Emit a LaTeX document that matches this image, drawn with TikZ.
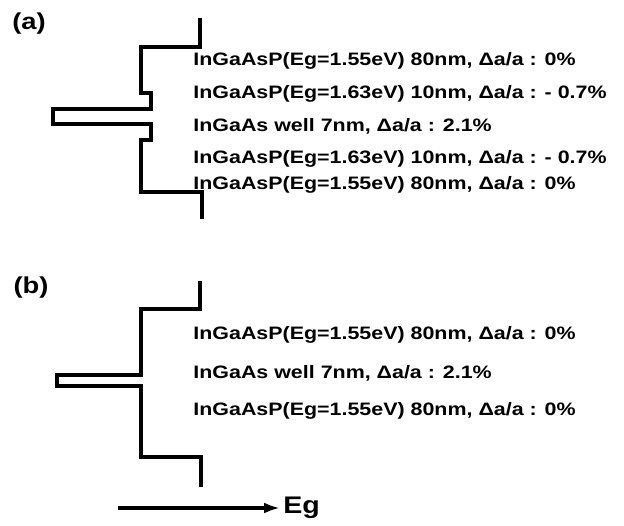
\documentclass[tikz,border=0pt]{standalone}
\usepackage{fontspec}
\setmainfont{Liberation Sans}[FakeStretch=1.19]
\usetikzlibrary{arrows.meta}

\begin{document}
\begin{tikzpicture}[x=1pt,y=-1pt,thick,
        band/.style={line width=4.4pt,line join=miter},
        layer/.style={anchor=west,inner sep=0pt,font=\bfseries\fontsize{18}{20}\selectfont},
        panel/.style={inner sep=0pt,font=\bfseries\fontsize{23}{25}\selectfont}]
    \useasboundingbox (0,0) rectangle (624,525);

    % panel (a): strain-compensated well
    \node[panel] (pa) at (29,24) {(a)};
    \draw[band] (200,18) -- (200,47) -- (141,47) -- (141,93) -- (151,93) -- (151,109)
        -- (53,109) -- (53,124) -- (151,124) -- (151,140) -- (141,140) -- (141,192)
        -- (202,192) -- (202,219);
    \begin{scope}[every node/.style={layer}]
        \node (a1) at (193,61) {InGaAsP(Eg=1.55eV) 80nm, Δa/a : 0\%};
        \node (a2) at (193,94) {InGaAsP(Eg=1.63eV) 10nm, Δa/a : - 0.7\%};
        \node (a3) at (193,126) {InGaAs well 7nm, Δa/a : 2.1\%};
        \node (a4) at (193,159) {InGaAsP(Eg=1.63eV) 10nm, Δa/a : - 0.7\%};
        \node (a5) at (193,185) {InGaAsP(Eg=1.55eV) 80nm, Δa/a : 0\%};
    \end{scope}

    % panel (b): plain well
    \node[panel] (pb) at (31,288) {(b)};
    \draw[band] (200,281) -- (200,309) -- (141,309) -- (141,375) -- (57,375) -- (57,386)
        -- (141,386) -- (141,457) -- (201,457) -- (201,487);
    \begin{scope}[every node/.style={layer}]
        \node (b1) at (193,335) {InGaAsP(Eg=1.55eV) 80nm, Δa/a : 0\%};
        \node (b2) at (193,373) {InGaAs well 7nm, Δa/a : 2.1\%};
        \node (b3) at (193,411) {InGaAsP(Eg=1.55eV) 80nm, Δa/a : 0\%};
    \end{scope}

    % energy axis
    \coordinate (egtail) at (118,508);
    \node[anchor=west,inner sep=3pt,font=\bfseries\fontsize{24}{26}\selectfont] (eg) at (280,508) {Eg};
    \draw[line width=4pt,-{Latex[length=16pt,width=11pt]}] (egtail) -- (eg.west);
\end{tikzpicture}
\end{document}
